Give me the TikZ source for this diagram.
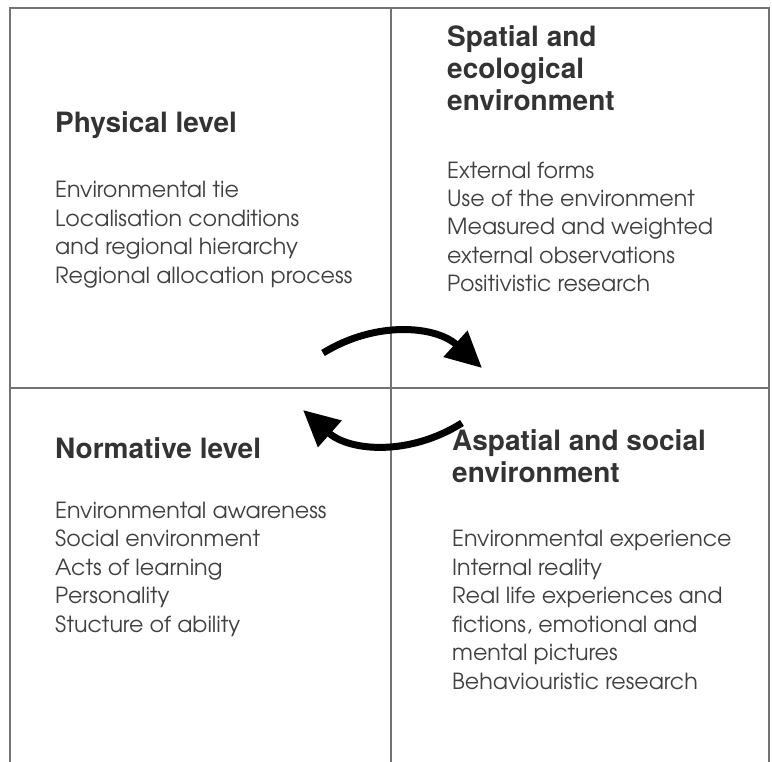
\documentclass[tikz,border=0pt]{standalone}
\usepackage{fontspec}
\setmainfont{TeX Gyre Heros}
\newfontfamily\bodyfont{TeX Gyre Adventor}
\usetikzlibrary{arrows.meta}

\begin{document}
\begin{tikzpicture}[x=1pt, y=-1pt,
    frame/.style={draw=black!55, line width=1.2pt},
    heading/.style={anchor=base west, align=left, inner sep=0pt, text=black!80,
        font=\bfseries\fontsize{28}{32}\selectfont},
    itemlist/.style={anchor=base west, align=left, inner sep=0pt, text=black!75,
        font=\bodyfont\fontsize{22.2}{28.5}\selectfont},
    swaparrow/.style={line width=7pt, -{Triangle[length=36pt, width=34pt]}}]
    \useasboundingbox (0,0) rectangle (772,762);

    % Frame and quadrants
    \draw[frame] (10,762) -- (10,8) -- (769,8) -- (769,762);
    \draw[frame] (391,8) -- (391,762);
    \draw[frame] (10,388) -- (769,388);

    % Physical level (nodes placed at the baseline of their last line)
    \node[heading] (phys) at (55,133) {Physical level};
    \node[itemlist] (physitems) at (55,283.5) {Environmental tie\\Localisation conditions\\and regional hierarchy\\Regional allocation process};

    % Spatial and ecological environment
    \node[heading] (spat) at (447,111) {Spatial and\\ecological\\environment};
    \node[itemlist] (spatitems) at (447,292) {External forms\\Use of the environment\\Measured and weighted\\external observations\\Positivistic research};

    % Normative level
    \node[heading] (norm) at (55,458) {Normative level};
    \node[itemlist] (normitems) at (55,632) {Environmental awareness\\Social environment\\Acts of learning\\Personality\\Stucture of ability};

    % Aspatial and social environment
    \node[heading] (aspat) at (452,482) {Aspatial and social\\environment};
    \node[itemlist] (aspatitems) at (452,689) {Environmental experience\\Internal reality\\Real life experiences and\\fictions, emotional and\\mental pictures\\Behaviouristic research};

    % Exchange arrows
    \coordinate (topstart) at (323,353);
    \coordinate (topend) at (482,368);
    \coordinate (botstart) at (462,423);
    \coordinate (botend) at (303,410);
    \draw[swaparrow] (topstart) to[bend left=37] (topend);
    \draw[swaparrow] (botstart) to[bend left=37] (botend);
\end{tikzpicture}
\end{document}
